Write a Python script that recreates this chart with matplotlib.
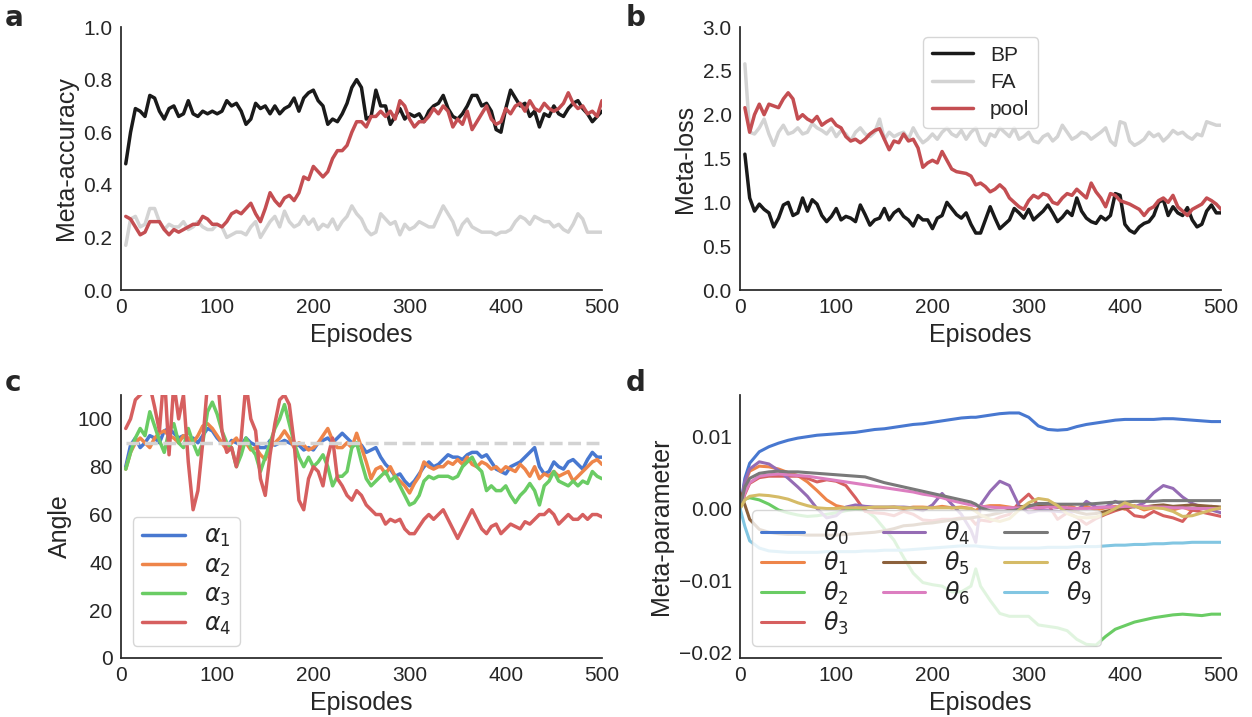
import matplotlib
matplotlib.use("Agg")
import matplotlib.pyplot as plt
import seaborn as sns
from matplotlib.ticker import FuncFormatter

# ---------------------------------------------------------------------------
# data
# ---------------------------------------------------------------------------
episodes = list(range(5, 501, 5))

# panel a: meta-accuracy
acc_bp = [0.48, 0.60, 0.69, 0.68, 0.66, 0.74, 0.73, 0.68, 0.65, 0.69,
          0.70, 0.66, 0.67, 0.72, 0.67, 0.66, 0.68, 0.67, 0.68, 0.67,
          0.68, 0.72, 0.70, 0.71, 0.68, 0.63, 0.65, 0.71, 0.69, 0.70,
          0.67, 0.70, 0.67, 0.69, 0.70, 0.73, 0.68, 0.73, 0.75, 0.76,
          0.72, 0.70, 0.63, 0.65, 0.64, 0.67, 0.71, 0.77, 0.80, 0.77,
          0.65, 0.66, 0.76, 0.70, 0.70, 0.63, 0.66, 0.69, 0.65, 0.67,
          0.66, 0.67, 0.64, 0.68, 0.70, 0.71, 0.74, 0.69, 0.66, 0.65,
          0.67, 0.70, 0.74, 0.74, 0.70, 0.71, 0.68, 0.61, 0.60, 0.69,
          0.76, 0.73, 0.70, 0.71, 0.66, 0.68, 0.62, 0.67, 0.66, 0.70,
          0.67, 0.66, 0.69, 0.71, 0.72, 0.69, 0.67, 0.64, 0.66, 0.68]
acc_fa = [0.17, 0.27, 0.28, 0.24, 0.25, 0.31, 0.31, 0.26, 0.23, 0.25,
          0.24, 0.24, 0.26, 0.23, 0.24, 0.26, 0.24, 0.23, 0.23, 0.25,
          0.24, 0.20, 0.21, 0.22, 0.22, 0.21, 0.24, 0.26, 0.20, 0.23,
          0.26, 0.28, 0.24, 0.30, 0.26, 0.24, 0.25, 0.28, 0.25, 0.27,
          0.23, 0.25, 0.24, 0.27, 0.23, 0.26, 0.28, 0.32, 0.29, 0.27,
          0.23, 0.21, 0.22, 0.29, 0.27, 0.25, 0.26, 0.21, 0.25, 0.23,
          0.24, 0.26, 0.25, 0.24, 0.24, 0.28, 0.32, 0.29, 0.26, 0.21,
          0.25, 0.27, 0.24, 0.23, 0.22, 0.22, 0.22, 0.21, 0.22, 0.22,
          0.23, 0.26, 0.28, 0.27, 0.25, 0.28, 0.27, 0.26, 0.26, 0.24,
          0.25, 0.23, 0.22, 0.25, 0.29, 0.27, 0.22, 0.22, 0.22, 0.22]
acc_pool = [0.28, 0.27, 0.24, 0.21, 0.22, 0.26, 0.26, 0.26, 0.23, 0.21,
            0.23, 0.22, 0.23, 0.24, 0.25, 0.25, 0.28, 0.27, 0.25, 0.25,
            0.24, 0.26, 0.29, 0.30, 0.29, 0.31, 0.33, 0.29, 0.26, 0.31,
            0.37, 0.34, 0.32, 0.35, 0.36, 0.34, 0.37, 0.43, 0.42, 0.47,
            0.45, 0.43, 0.45, 0.50, 0.53, 0.53, 0.55, 0.60, 0.64, 0.64,
            0.62, 0.66, 0.66, 0.68, 0.66, 0.68, 0.65, 0.72, 0.70, 0.65,
            0.62, 0.64, 0.64, 0.66, 0.69, 0.67, 0.70, 0.68, 0.62, 0.65,
            0.63, 0.68, 0.61, 0.64, 0.67, 0.70, 0.65, 0.63, 0.64, 0.69,
            0.67, 0.70, 0.71, 0.68, 0.72, 0.69, 0.68, 0.71, 0.69, 0.68,
            0.69, 0.71, 0.75, 0.71, 0.69, 0.70, 0.67, 0.68, 0.66, 0.72]

# panel b: meta-loss
loss_bp = [1.55, 1.05, 0.90, 0.98, 0.92, 0.88, 0.72, 0.82, 0.97, 1.00,
           0.85, 0.88, 1.05, 0.90, 1.03, 0.98, 0.85, 0.78, 0.84, 0.93,
           0.80, 0.84, 0.82, 0.78, 0.97, 0.86, 0.74, 0.80, 0.82, 0.93,
           0.80, 0.88, 0.92, 0.84, 0.80, 0.73, 0.85, 0.80, 0.80, 0.70,
           0.82, 0.85, 1.00, 0.93, 0.86, 0.82, 0.88, 0.75, 0.65, 0.65,
           0.80, 0.95, 0.82, 0.70, 0.75, 0.80, 0.93, 0.88, 0.82, 0.92,
           0.80, 0.85, 0.90, 0.97, 0.88, 0.78, 0.83, 0.90, 0.85, 1.05,
           0.90, 0.82, 0.78, 0.76, 0.84, 0.80, 0.85, 1.10, 1.08, 0.75,
           0.68, 0.65, 0.72, 0.76, 0.78, 0.85, 1.00, 1.03, 0.85, 0.95,
           0.88, 0.85, 0.94, 0.80, 0.72, 0.75, 0.90, 0.97, 0.88, 0.88]
loss_fa = [2.58, 1.80, 1.78, 1.85, 1.95, 1.78, 1.65, 1.80, 1.88, 1.78,
           1.80, 1.85, 1.78, 1.80, 1.90, 1.85, 1.82, 1.78, 1.85, 1.75,
           1.82, 1.78, 1.70, 1.80, 1.85, 1.78, 1.75, 1.80, 1.95, 1.72,
           1.80, 1.75, 1.78, 1.80, 1.72, 1.85, 1.75, 1.68, 1.72, 1.78,
           1.72, 1.80, 1.85, 1.78, 1.75, 1.82, 1.72, 1.80, 1.85, 1.70,
           1.65, 1.78, 1.75, 1.85, 1.80, 1.75, 1.85, 1.72, 1.75, 1.80,
           1.70, 1.68, 1.75, 1.78, 1.70, 1.75, 1.88, 1.80, 1.72, 1.75,
           1.80, 1.78, 1.72, 1.76, 1.80, 1.85, 1.70, 1.65, 1.92, 1.90,
           1.70, 1.65, 1.68, 1.72, 1.80, 1.75, 1.78, 1.70, 1.75, 1.82,
           1.78, 1.80, 1.75, 1.72, 1.78, 1.76, 1.92, 1.90, 1.88, 1.88]
loss_pool = [2.08, 1.80, 2.00, 2.12, 2.00, 2.12, 2.10, 2.08, 2.18, 2.25,
             2.18, 1.95, 2.00, 1.95, 1.92, 1.98, 1.88, 1.92, 1.95, 1.88,
             1.85, 1.75, 1.70, 1.72, 1.68, 1.72, 1.78, 1.82, 1.84, 1.72,
             1.60, 1.70, 1.68, 1.78, 1.70, 1.72, 1.62, 1.40, 1.45, 1.48,
             1.45, 1.58, 1.48, 1.38, 1.35, 1.34, 1.33, 1.30, 1.20, 1.22,
             1.18, 1.12, 1.15, 1.20, 1.15, 1.05, 1.00, 0.95, 0.92, 1.02,
             1.08, 1.05, 1.10, 1.08, 1.00, 0.98, 1.05, 1.10, 1.08, 1.15,
             1.10, 1.05, 1.22, 1.12, 1.05, 0.95, 1.10, 1.08, 1.02, 1.00,
             0.98, 0.95, 0.92, 0.85, 0.92, 0.95, 1.02, 1.05, 1.00, 1.08,
             0.95, 0.90, 0.85, 0.92, 0.95, 0.98, 1.05, 1.02, 0.98, 0.92]

# panel c: angles
alpha1 = [80, 89, 92, 88, 90, 93, 92, 90, 95, 96,
          94, 92, 93, 90, 92, 90, 93, 96, 95, 92,
          90, 88, 91, 90, 89, 92, 90, 89, 88, 88,
          91, 89, 90, 91, 90, 89, 89, 87, 88, 87,
          90, 91, 92, 90, 92, 94, 92, 90, 89, 89,
          86, 87, 88, 84, 81, 79, 76, 77, 74, 72,
          74, 77, 80, 82, 80, 81, 83, 85, 84, 84,
          83, 85, 86, 86, 84, 85, 82, 79, 78, 77,
          80, 81, 82, 84, 86, 88, 80, 77, 78, 82,
          80, 79, 82, 83, 81, 79, 83, 86, 84, 84]
alpha2 = [79, 86, 90, 92, 90, 88, 92, 94, 95, 93,
          92, 90, 93, 92, 90, 93, 97, 98, 96, 93,
          90, 87, 90, 92, 88, 90, 87, 88, 85, 83,
          88, 90, 92, 95, 92, 88, 90, 89, 87, 88,
          90, 93, 96, 91, 88, 88, 90, 88, 94, 88,
          82, 75, 79, 80, 77, 80, 76, 74, 72, 69,
          73, 76, 82, 80, 79, 80, 80, 82, 81, 83,
          81, 84, 81, 80, 82, 81, 79, 80, 78, 80,
          79, 78, 81, 79, 76, 80, 75, 77, 76, 78,
          76, 77, 78, 74, 76, 78, 80, 82, 83, 81]
alpha3 = [79, 86, 92, 96, 93, 103, 97, 91, 86, 95,
          98, 90, 88, 96, 90, 85, 90, 103, 107, 102,
          95, 90, 88, 80, 85, 92, 88, 85, 78, 84,
          90, 96, 100, 106, 98, 90, 84, 80, 84, 80,
          82, 85, 80, 72, 76, 76, 78, 88, 90, 82,
          75, 72, 74, 76, 78, 74, 76, 72, 68, 64,
          65, 68, 74, 76, 75, 76, 76, 76, 75, 76,
          80, 82, 84, 80, 78, 70, 72, 70, 70, 72,
          68, 65, 68, 70, 73, 70, 64, 72, 74, 78,
          74, 73, 72, 74, 72, 74, 73, 78, 76, 75]
alpha4 = [96, 100, 108, 110, 112, 114, 105, 95, 120, 85,
          115, 100, 110, 82, 62, 70, 90, 115, 112, 120,
          95, 86, 88, 80, 92, 115, 100, 95, 75, 68,
          85, 98, 108, 110, 106, 90, 66, 62, 75, 80,
          78, 72, 84, 92, 75, 72, 68, 66, 70, 68,
          64, 62, 60, 60, 56, 58, 57, 58, 54, 52,
          52, 55, 58, 60, 58, 60, 62, 58, 54, 50,
          54, 58, 62, 58, 54, 52, 55, 56, 52, 54,
          56, 55, 54, 57, 56, 58, 60, 60, 62, 60,
          56, 58, 60, 58, 58, 60, 58, 60, 60, 59]
right_angle = 90

# panel d: meta-parameters
episodes_d = [0, 5, 10, 20, 30, 40, 50, 60, 70, 80,
              90, 100, 110, 120, 130, 140, 150, 160, 170, 180,
              190, 200, 210, 220, 230, 240, 245, 250, 260, 270,
              280, 290, 300, 310, 320, 330, 340, 350, 360, 370,
              380, 390, 400, 410, 420, 430, 440, 450, 460, 470,
              480, 490, 500]
theta0 = [0.0000, 0.0042, 0.0063, 0.0079, 0.0086, 0.0091, 0.0095, 0.0098, 0.0100, 0.0102,
          0.0103, 0.0104, 0.0105, 0.0106, 0.0108, 0.0110, 0.0111, 0.0113, 0.0115, 0.0117,
          0.0118, 0.0120, 0.0122, 0.0124, 0.0126, 0.0127, 0.0127, 0.0128, 0.0130, 0.0132,
          0.0133, 0.0133, 0.0127, 0.0115, 0.0110, 0.0109, 0.0110, 0.0114, 0.0117, 0.0119,
          0.0121, 0.0123, 0.0124, 0.0124, 0.0124, 0.0124, 0.0125, 0.0125, 0.0124, 0.0123,
          0.0122, 0.0121, 0.0121]
theta1 = [0.0000, 0.0035, 0.0052, 0.0059, 0.0058, 0.0055, 0.0050, 0.0046, 0.0037, 0.0025,
          0.0012, 0.0004, 0.0001, 0.0000, 0.0002, 0.0001, 0.0001, 0.0002, 0.0000, 0.0002,
          0.0002, 0.0001, 0.0003, 0.0001, 0.0002, 0.0000, -0.0003, 0.0002, 0.0004, 0.0004,
          0.0002, 0.0000, 0.0003, -0.0001, 0.0004, 0.0002, 0.0005, 0.0000, 0.0003, -0.0002,
          0.0001, 0.0003, -0.0001, 0.0004, -0.0002, 0.0001, 0.0003, -0.0002, 0.0002, -0.0003,
          0.0001, 0.0003, 0.0001]
theta2 = [0.0000, 0.0013, 0.0015, 0.0012, 0.0006, -0.0002, -0.0006, -0.0009, -0.0011, -0.0010,
          -0.0008, -0.0006, -0.0003, -0.0001, -0.0002, -0.0012, -0.0028, -0.0044, -0.0068, -0.0090,
          -0.0103, -0.0106, -0.0108, -0.0116, -0.0116, -0.0108, -0.0084, -0.0108, -0.0128, -0.0146,
          -0.0150, -0.0150, -0.0150, -0.0162, -0.0164, -0.0166, -0.0170, -0.0182, -0.0189, -0.0190,
          -0.0178, -0.0168, -0.0163, -0.0158, -0.0155, -0.0152, -0.0150, -0.0148, -0.0147, -0.0148,
          -0.0149, -0.0147, -0.0147]
theta3 = [0.0000, 0.0020, 0.0035, 0.0043, 0.0045, 0.0045, 0.0045, 0.0045, 0.0042, 0.0037,
          0.0040, 0.0038, 0.0032, 0.0015, -0.0004, -0.0006, -0.0007, -0.0010, -0.0004, -0.0008,
          -0.0016, -0.0017, -0.0015, -0.0015, -0.0013, -0.0014, -0.0022, -0.0016, -0.0018, -0.0012,
          -0.0008, 0.0008, 0.0020, 0.0005, 0.0006, -0.0015, -0.0006, -0.0012, -0.0022, -0.0014,
          -0.0008, -0.0003, 0.0001, -0.0010, -0.0012, -0.0004, -0.0010, -0.0013, -0.0018, -0.0002,
          -0.0005, -0.0008, -0.0011]
theta4 = [0.0000, 0.0038, 0.0055, 0.0065, 0.0062, 0.0053, 0.0042, 0.0030, 0.0017, 0.0000,
          -0.0013, -0.0010, 0.0002, 0.0005, 0.0003, 0.0002, 0.0002, 0.0002, 0.0002, 0.0001,
          -0.0003, 0.0005, 0.0021, 0.0006, -0.0008, -0.0030, -0.0047, 0.0005, 0.0024, 0.0038,
          0.0032, 0.0004, -0.0006, -0.0003, -0.0003, -0.0004, -0.0005, -0.0004, 0.0010, 0.0002,
          0.0002, 0.0010, 0.0004, 0.0002, 0.0008, 0.0022, 0.0032, 0.0028, 0.0016, 0.0007,
          0.0002, -0.0002, -0.0006]
theta5 = [0.0022, 0.0005, -0.0015, -0.0029, -0.0033, -0.0035, -0.0036, -0.0036, -0.0037, -0.0037,
          -0.0037, -0.0037, -0.0036, -0.0035, -0.0034, -0.0033, -0.0031, -0.0028, -0.0024, -0.0023,
          -0.0021, -0.0020, -0.0018, -0.0016, -0.0014, -0.0013, -0.0012, -0.0011, -0.0009, -0.0006,
          -0.0002, 0.0002, 0.0004, 0.0005, 0.0004, 0.0002, 0.0000, -0.0005, -0.0008, -0.0007,
          -0.0004, -0.0001, 0.0001, 0.0003, 0.0002, 0.0004, 0.0005, 0.0003, 0.0004, 0.0005,
          0.0004, 0.0003, 0.0002]
theta6 = [0.0000, 0.0022, 0.0036, 0.0045, 0.0047, 0.0048, 0.0047, 0.0046, 0.0045, 0.0043,
          0.0041, 0.0039, 0.0037, 0.0035, 0.0033, 0.0031, 0.0029, 0.0027, 0.0025, 0.0023,
          0.0020, 0.0018, 0.0015, 0.0011, 0.0008, 0.0005, 0.0004, 0.0003, 0.0002, 0.0001,
          0.0001, 0.0001, 0.0001, 0.0001, 0.0002, 0.0002, 0.0001, 0.0000, 0.0000, 0.0001,
          0.0002, 0.0002, 0.0003, 0.0003, 0.0003, 0.0002, 0.0002, 0.0001, 0.0001, 0.0000,
          0.0000, 0.0000, 0.0000]
theta7 = [0.0000, 0.0030, 0.0042, 0.0049, 0.0051, 0.0052, 0.0051, 0.0051, 0.0050, 0.0049,
          0.0048, 0.0047, 0.0046, 0.0045, 0.0044, 0.0040, 0.0036, 0.0033, 0.0030, 0.0027,
          0.0024, 0.0021, 0.0018, 0.0015, 0.0012, 0.0009, 0.0006, 0.0001, -0.0003, -0.0004,
          -0.0004, -0.0001, 0.0003, 0.0007, 0.0007, 0.0006, 0.0006, 0.0006, 0.0006, 0.0007,
          0.0008, 0.0009, 0.0009, 0.0010, 0.0010, 0.0010, 0.0011, 0.0011, 0.0011, 0.0011,
          0.0011, 0.0011, 0.0011]
theta8 = [0.0000, 0.0012, 0.0017, 0.0019, 0.0018, 0.0016, 0.0013, 0.0008, 0.0004, 0.0001,
          0.0000, 0.0000, 0.0001, 0.0001, 0.0001, 0.0002, 0.0002, 0.0002, 0.0001, 0.0001,
          0.0001, 0.0001, 0.0001, 0.0001, 0.0001, 0.0000, -0.0004, -0.0009, -0.0015, -0.0018,
          -0.0014, -0.0002, 0.0008, 0.0014, 0.0012, 0.0004, -0.0007, -0.0012, -0.0013, -0.0012,
          -0.0007, 0.0000, 0.0008, 0.0003, 0.0000, 0.0001, 0.0000, -0.0004, -0.0011, -0.0010,
          -0.0006, -0.0002, 0.0001]
theta9 = [0.0000, -0.0025, -0.0045, -0.0055, -0.0059, -0.0060, -0.0061, -0.0061, -0.0061, -0.0061,
          -0.0060, -0.0060, -0.0060, -0.0060, -0.0059, -0.0059, -0.0058, -0.0058, -0.0058, -0.0057,
          -0.0056, -0.0055, -0.0054, -0.0053, -0.0052, -0.0052, -0.0052, -0.0053, -0.0054, -0.0055,
          -0.0055, -0.0055, -0.0055, -0.0055, -0.0054, -0.0054, -0.0054, -0.0053, -0.0053, -0.0053,
          -0.0052, -0.0051, -0.0051, -0.0050, -0.0050, -0.0049, -0.0049, -0.0048, -0.0048, -0.0047,
          -0.0047, -0.0047, -0.0047]
thetas = [theta0, theta1, theta2, theta3, theta4, theta5, theta6, theta7, theta8, theta9]

# ---------------------------------------------------------------------------
# style
# ---------------------------------------------------------------------------
sns.set_style("white")
plt.rcParams["font.family"] = ["Liberation Sans", "DejaVu Sans"]
plt.rcParams["axes.edgecolor"] = "0.15"
plt.rcParams["axes.linewidth"] = 1.25
plt.rcParams["xtick.labelsize"] = 15
plt.rcParams["ytick.labelsize"] = 15
plt.rcParams["axes.labelsize"] = 18
plt.rcParams["legend.fontsize"] = 15

muted = sns.color_palette("muted", 10)
BP_COLOR = "#1a1a1a"
FA_COLOR = "lightgray"
POOL_COLOR = "#c44e52"
LW = 2.5

fig = plt.figure(figsize=(12.52, 7.17), dpi=100)
W, H = 0.3842, 0.3668
ax_a = fig.add_axes([0.0966, 0.5955, W, H])
ax_b = fig.add_axes([0.5911, 0.5955, W, H])
ax_c = fig.add_axes([0.0966, 0.0823, W, H])
ax_d = fig.add_axes([0.5911, 0.0823, W, H])

for letter, (x, y) in zip("abcd", [(0.004, 0.975), (0.5, 0.975),
                                   (0.004, 0.466), (0.5, 0.466)]):
    fig.text(x, y, letter, fontsize=20, fontweight="bold",
             family="DejaVu Sans", va="center", ha="left", color="0.15")

# ----- a -----
ax_a.plot(episodes, acc_bp, color=BP_COLOR, lw=LW, label="BP")
ax_a.plot(episodes, acc_fa, color=FA_COLOR, lw=LW, label="FA")
ax_a.plot(episodes, acc_pool, color=POOL_COLOR, lw=LW, label="pool")
ax_a.set_ylim(0, 1.0)
ax_a.set_yticks([0.0, 0.2, 0.4, 0.6, 0.8, 1.0])
ax_a.yaxis.set_major_formatter(FuncFormatter(lambda v, p: f"{v:.1f}"))
ax_a.set_ylabel("Meta-accuracy")

# ----- b -----
ax_b.plot(episodes, loss_bp, color=BP_COLOR, lw=LW, label="BP")
ax_b.plot(episodes, loss_fa, color=FA_COLOR, lw=LW, label="FA")
ax_b.plot(episodes, loss_pool, color=POOL_COLOR, lw=LW, label="pool")
ax_b.set_ylim(0, 3.0)
ax_b.set_yticks([0.0, 0.5, 1.0, 1.5, 2.0, 2.5, 3.0])
ax_b.yaxis.set_major_formatter(FuncFormatter(lambda v, p: f"{v:.1f}"))
ax_b.set_ylabel("Meta-loss")
ax_b.legend(loc="upper center", handlelength=2.0, labelspacing=0.4)

# ----- c -----
for i, series in enumerate([alpha1, alpha2, alpha3, alpha4]):
    ax_c.plot(episodes, series, color=muted[i], lw=LW,
              label=rf"$\alpha_{i + 1}$")
ax_c.plot(episodes, [right_angle] * len(episodes), color="lightgray",
          lw=LW, ls="--")
ax_c.set_ylim(0, 110)
ax_c.set_yticks([0, 20, 40, 60, 80, 100])
ax_c.set_ylabel("Angle")
ax_c.legend(loc="lower left", fontsize=17, labelspacing=0.25,
            handlelength=1.8)

# ----- d -----
for i, series in enumerate(thetas):
    ax_d.plot(episodes_d, series, color=muted[i], lw=2.2,
              label=rf"$\theta_{i}$")
ax_d.set_ylim(-0.0208, 0.0158)
ax_d.set_yticks([-0.02, -0.01, 0.0, 0.01])
ax_d.yaxis.set_major_formatter(
    FuncFormatter(lambda v, p: f"{v:.2f}".replace("-", "\u2212")))
ax_d.set_ylabel("Meta-parameter")
ax_d.legend(loc="lower left", ncol=3, fontsize=17, labelspacing=0.12,
            handlelength=1.8, columnspacing=1.45)

for ax in (ax_a, ax_b, ax_c, ax_d):
    ax.set_xlim(0, 500)
    ax.set_xticks([0, 100, 200, 300, 400, 500])
    ax.set_xlabel("Episodes")
    ax.tick_params(colors="0.15", length=0, pad=6)
    sns.despine(ax=ax)

fig.savefig("out.png", dpi=100)
